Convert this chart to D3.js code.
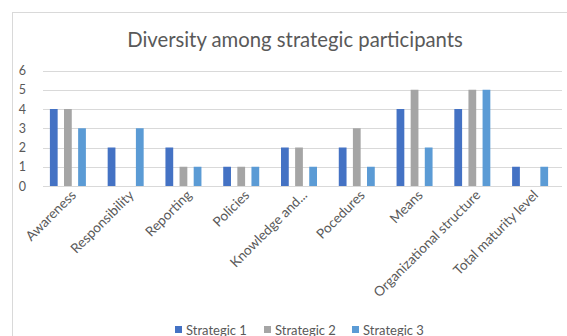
<!DOCTYPE html>
<html>
<head>
<meta charset="utf-8">
<script src="https://cdn.jsdelivr.net/npm/d3@7"></script>
<style>
  html, body { margin: 0; padding: 0; background: #fff; }
  svg { display: block; font-family: Lato, "Open Sans", sans-serif; }
</style>
</head>
<body>
<svg id="chart" width="567" height="336"></svg>
<script>
// Chart data
const categories = ["Awareness", "Responsibility", "Reporting", "Policies", "Knowledge and...",
  "Pocedures", "Means", "Organizational structure", "Total maturity level"];
const seriesNames = ["Strategic 1", "Strategic 2", "Strategic 3"];
const strategic1 = [4, 2, 2, 1, 2, 2, 4, 4, 1];
const strategic2 = [4, 0, 1, 1, 2, 3, 5, 5, 0];
const strategic3 = [3, 3, 1, 1, 1, 1, 2, 5, 1];
const yTicks = [0, 1, 2, 3, 4, 5, 6];
const title = "Diversity among strategic participants";

const seriesValues = [strategic1, strategic2, strategic3];
const colors = ["#4472c4", "#a5a5a5", "#5b9bd5"];
const textColor = "#595959";

const svg = d3.select("#chart");

// chart frame
svg.append("rect")
  .attr("x", 12.5).attr("y", 12.5)
  .attr("width", 600).attr("height", 400)
  .attr("fill", "none").attr("stroke", "#d9d9d9").attr("stroke-width", 1);

// title
svg.append("text")
  .attr("x", 295).attr("y", 47)
  .attr("text-anchor", "middle")
  .attr("font-size", 20.3)
  .attr("fill", textColor)
  .text(title);

const x = d3.scaleBand().domain(categories).range([39, 559]);
const y = d3.scaleLinear().domain([0, 6]).range([186, 70.5]);
const inner = d3.scaleBand().domain(seriesNames).range([-18, 18]).paddingInner(0.45).paddingOuter(0);

// gridlines
svg.append("g").selectAll("line").data(yTicks).join("line")
  .attr("x1", 43).attr("x2", 562)
  .attr("y1", d => Math.round(y(d)) + 0.5).attr("y2", d => Math.round(y(d)) + 0.5)
  .attr("stroke", "#d9d9d9").attr("stroke-width", 1);

// y axis labels
const yAxis = d3.axisLeft(y).tickValues(yTicks).tickSize(0).tickPadding(0).tickFormat(d3.format("d"));
const yg = svg.append("g").attr("transform", "translate(26,0)").call(yAxis);
yg.select(".domain").remove();
yg.selectAll("text").attr("font-size", 12.5).attr("fill", textColor)
  .attr("font-family", "Lato, 'Open Sans', sans-serif");

// bars
const groups = svg.append("g").selectAll("g").data(categories).join("g")
  .attr("transform", c => `translate(${x(c) + x.bandwidth() / 2},0)`);
groups.selectAll("rect")
  .data((c, i) => seriesNames.map((s, j) => ({ s, j, v: seriesValues[j][i] })))
  .join("rect")
  .attr("x", d => inner(d.s))
  .attr("width", inner.bandwidth())
  .attr("y", d => y(d.v))
  .attr("height", d => y(0) - y(d.v))
  .attr("fill", d => colors[d.j]);

// x axis labels, rotated
const xAxis = d3.axisBottom(x).tickSize(0).tickPadding(0);
const xg = svg.append("g").attr("transform", `translate(0,${y(0)})`).call(xAxis);
xg.select(".domain").remove();
xg.selectAll("text")
  .attr("font-size", 13.6).attr("fill", textColor)
  .attr("font-family", "Lato, 'Open Sans', sans-serif")
  .attr("text-anchor", "end")
  .attr("dy", null)
  .attr("transform", "translate(9,10) rotate(-45)");

// legend
const legendX = [175, 264, 352];
const lg = svg.append("g").selectAll("g").data(seriesNames).join("g")
  .attr("transform", (d, i) => `translate(${legendX[i]},330)`);
lg.append("rect").attr("x", 0).attr("y", -4).attr("width", 7).attr("height", 7)
  .attr("fill", (d, i) => colors[i]);
lg.append("text").attr("x", 11).attr("y", 4.5)
  .attr("font-size", 13).attr("fill", textColor).text(d => d);
</script>
</body>
</html>
